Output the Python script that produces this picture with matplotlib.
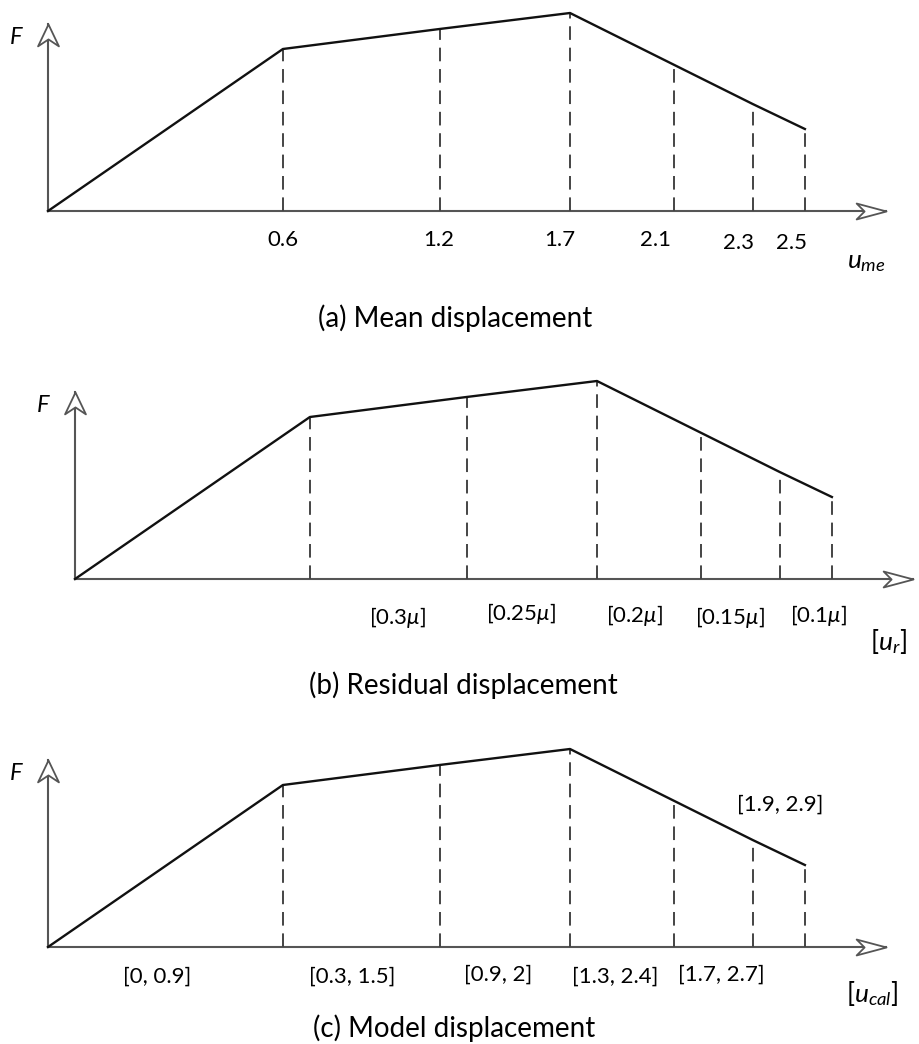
import matplotlib
matplotlib.use("Agg")
import matplotlib.pyplot as plt
from matplotlib.path import Path

plt.rcParams['font.family'] = ['Lato', 'DejaVu Sans']
plt.rcParams['mathtext.fontset'] = 'custom'
plt.rcParams['mathtext.rm'] = 'Lato'
plt.rcParams['mathtext.it'] = 'Lato:italic'
plt.rcParams['mathtext.fallback'] = 'stix'

# force-displacement backbone (schematic units)
x_knots = [0, 4.5, 7.5, 10.0, 12.0, 13.5, 14.5]
F_knots = [0, 8.1, 9.1, 9.9, 7.3, 5.35, 4.1]
x_end = 16.05
y_end = 9.35

# tick labels of each panel and where they sit (data units)
labels_a = ['0.6', '1.2', '1.7', '2.1', '2.3', '2.5']
pos_a = [(4.5, -1.45), (7.49, -1.45), (9.81, -1.45), (11.63, -1.45), (13.22, -1.6), (14.25, -1.6)]

labels_b = ['[0.3$\\mu$]', '[0.25$\\mu$]', '[0.2$\\mu$]', '[0.15$\\mu$]', '[0.1$\\mu$]']
pos_b = [(6.17, -1.9), (8.54, -1.75), (10.71, -1.8), (12.55, -1.9), (14.25, -1.8)]

labels_c = ['[0, 0.9]', '[0.3, 1.5]', '[0.9, 2]', '[1.3, 2.4]', '[1.7, 2.7]', '[1.9, 2.9]']
pos_c = [(2.09, -1.5), (5.82, -1.5), (8.62, -1.4), (10.86, -1.5), (12.89, -1.4), (14.02, 7.1)]

panels = [
    dict(origin=(48, 211), labels=labels_a, pos=pos_a, xlab='$u_{me}$', xlab_pos=(15.67, -2.55),
         caption='(a) Mean displacement', cap_xy=(455, 318)),
    dict(origin=(75, 579), labels=labels_b, pos=pos_b, xlab='[$u_r$]', xlab_pos=(15.59, -3.15),
         caption='(b) Residual displacement', cap_xy=(463, 685)),
    dict(origin=(48, 947), labels=labels_c, pos=pos_c, xlab='[$u_{cal}$]', xlab_pos=(15.79, -2.3),
         caption='(c) Model displacement', cap_xy=(454, 1028)),
]

W, H = 919, 1044
px_x, px_y = 52.2, 20.0  # pixels per data unit

arrow_x = Path([(0, 0), (-30, 8), (-22, 0), (-30, -8), (0, 0)],
               [Path.MOVETO, Path.LINETO, Path.LINETO, Path.LINETO, Path.CLOSEPOLY])
arrow_y = Path([(0, 0), (-10.5, -22), (0, -15), (10.5, -22), (0, 0)],
               [Path.MOVETO, Path.LINETO, Path.LINETO, Path.LINETO, Path.CLOSEPOLY])

fig = plt.figure(figsize=(W / 100, H / 100), dpi=100)

for p in panels:
    ox, oy = p['origin']
    ax = fig.add_axes([ox / W, (H - oy) / H, x_end * px_x / W, y_end * px_y / H])
    ax.set_xlim(0, x_end)
    ax.set_ylim(0, y_end)
    ax.axis('off')

    # axes with hollow arrow heads
    ax.plot([0, x_end], [0, 0], color='#555555', lw=1.5, clip_on=False, zorder=2)
    ax.plot([0, 0], [0, y_end], color='#555555', lw=1.5, clip_on=False, zorder=2)
    ax.plot([x_end], [0], marker=arrow_x, markersize=43, mfc='white', mec='#555555',
            mew=1.3, clip_on=False, zorder=4)
    ax.plot([0], [y_end], marker=arrow_y, markersize=31.5, mfc='white', mec='#555555',
            mew=1.3, clip_on=False, zorder=4)

    # dashed drops
    for xk, fk in zip(x_knots[1:], F_knots[1:]):
        ax.plot([xk, xk], [0, fk], color='#444444', lw=1.4, dashes=(7, 4), clip_on=False, zorder=2)

    ax.plot(x_knots, F_knots, color='#111111', lw=1.7, clip_on=False, zorder=3)

    ax.text(-0.62, 8.7, 'F', style='italic', fontsize=17, ha='center', va='center')
    for lab, (lx, ly) in zip(p['labels'], p['pos']):
        ax.text(lx, ly, lab, fontsize=16, ha='center', va='center')
    ax.text(p['xlab_pos'][0], p['xlab_pos'][1], p['xlab'], fontsize=19, ha='center', va='center')

    cx, cy = p['cap_xy']
    fig.text(cx / W, 1 - cy / H, p['caption'], fontsize=20, ha='center', va='center')

fig.savefig('out.png', dpi=100)
